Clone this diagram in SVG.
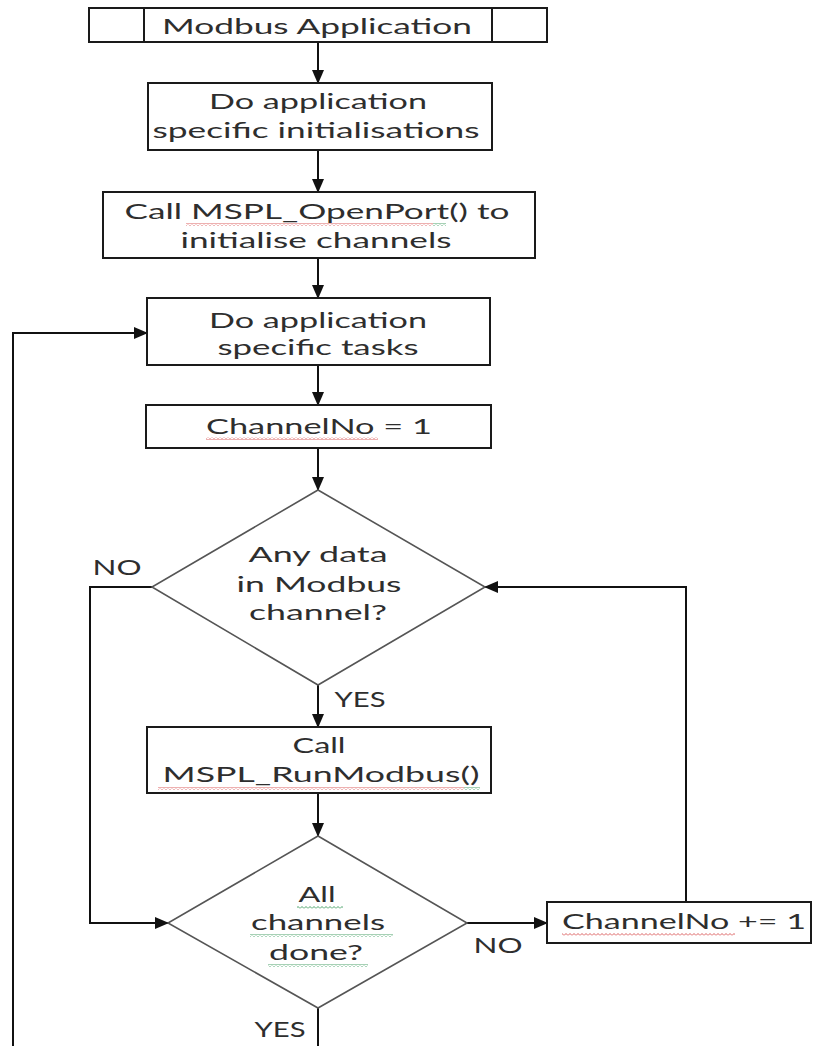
<svg xmlns="http://www.w3.org/2000/svg" width="813" height="1046" viewBox="0 0 813 1046">
<style>
.box{fill:#fff;stroke:#1a1a1a;stroke-width:2}
.dia{fill:#fff;stroke:#555;stroke-width:1.6}
.con{fill:none;stroke:#111;stroke-width:2}
.t{font-family:Lato,"Liberation Sans",sans-serif;font-size:22px;fill:#2e2e2e;text-anchor:middle}
.sqr{fill:url(#wr)}
.sqg{fill:url(#wg)}
</style>
<defs>
<marker id="ah" markerUnits="userSpaceOnUse" markerWidth="14" markerHeight="12" refX="13" refY="6" orient="auto">
<path d="M0,0 L14,6 L0,12 z" fill="#111"/>
</marker>
<pattern id="wr" patternUnits="userSpaceOnUse" width="4" height="3">
<path d="M0,2.5 L2,0.5 L4,2.5" fill="none" stroke="#d85050" stroke-width="0.9"/>
</pattern>
<pattern id="wg" patternUnits="userSpaceOnUse" width="4" height="3">
<path d="M0,2.5 L2,0.5 L4,2.5" fill="none" stroke="#3a9a5a" stroke-width="0.9"/>
</pattern>
</defs>
<rect width="813" height="1046" fill="#fff"/>

<g id="connectors">
<line class="con" x1="318" y1="42" x2="318" y2="83" marker-end="url(#ah)"/>
<line class="con" x1="318" y1="150" x2="318" y2="192" marker-end="url(#ah)"/>
<line class="con" x1="318" y1="258" x2="318" y2="298" marker-end="url(#ah)"/>
<line class="con" x1="318" y1="365" x2="318" y2="405" marker-end="url(#ah)"/>
<line class="con" x1="318" y1="448" x2="318" y2="490" marker-end="url(#ah)"/>
<line class="con" x1="318" y1="685" x2="318" y2="727" marker-end="url(#ah)"/>
<line class="con" x1="318" y1="793" x2="318" y2="836" marker-end="url(#ah)"/>
<line class="con" x1="318" y1="1008" x2="318" y2="1046"/>
<polyline class="con" points="152,587 90,587 90,923 168,923" marker-end="url(#ah)"/>
<line class="con" x1="467" y1="923" x2="547" y2="923" marker-end="url(#ah)"/>
<polyline class="con" points="686,902 686,587 485,587" marker-end="url(#ah)"/>
<polyline class="con" points="13,1046 13,333 147,333" marker-end="url(#ah)"/>
</g>

<g id="title">
<rect class="box" x="89" y="8" width="458" height="34"/>
<line class="box" x1="144" y1="8" x2="144" y2="42"/>
<line class="box" x1="492" y1="8" x2="492" y2="42"/>
<text class="t" x="317" y="34" textLength="310" lengthAdjust="spacingAndGlyphs">Modbus Application</text>
</g>

<g id="init">
<rect class="box" x="148" y="83" width="344" height="67"/>
<text class="t" x="318" y="109" textLength="218" lengthAdjust="spacingAndGlyphs">Do application</text>
<text class="t" x="316" y="138" textLength="327" lengthAdjust="spacingAndGlyphs">specific initialisations</text>
</g>

<g id="openport">
<rect class="box" x="103" y="192" width="432" height="66"/>
<text class="t" x="317" y="219" textLength="385" lengthAdjust="spacingAndGlyphs">Call MSPL_OpenPort() to</text>
<rect class="sqr" x="186" y="223" width="247" height="3"/>
<rect class="sqg" x="433" y="223" width="13" height="3"/>
<text class="t" x="316" y="248" textLength="271" lengthAdjust="spacingAndGlyphs">initialise channels</text>
</g>

<g id="tasks">
<rect class="box" x="147" y="298" width="343" height="67"/>
<text class="t" x="318" y="328" textLength="218" lengthAdjust="spacingAndGlyphs">Do application</text>
<text class="t" x="318" y="355" textLength="201" lengthAdjust="spacingAndGlyphs">specific tasks</text>
</g>

<g id="chan1">
<rect class="box" x="146" y="405" width="345" height="43"/>
<text class="t" x="319" y="434" textLength="226" lengthAdjust="spacingAndGlyphs">ChannelNo = 1</text>
<rect class="sqr" x="206" y="437" width="172" height="3"/>
</g>

<g id="anydata">
<polygon class="dia" points="318,490 485,587 318,685 152,587"/>
<text class="t" x="318" y="562" textLength="139" lengthAdjust="spacingAndGlyphs">Any data</text>
<text class="t" x="319" y="592" textLength="165" lengthAdjust="spacingAndGlyphs">in Modbus</text>
<text class="t" x="318" y="620" textLength="138" lengthAdjust="spacingAndGlyphs">channel?</text>
</g>

<g id="runmodbus">
<rect class="box" x="147" y="727" width="344" height="66"/>
<text class="t" x="319" y="753" textLength="53" lengthAdjust="spacingAndGlyphs">Call</text>
<text class="t" x="321" y="782" textLength="317" lengthAdjust="spacingAndGlyphs">MSPL_RunModbus()</text>
<rect class="sqr" x="158" y="787" width="306" height="3"/>
<rect class="sqg" x="464" y="787" width="16" height="3"/>
</g>

<g id="alldone">
<polygon class="dia" points="318,836 467,923 318,1008 168,923"/>
<text class="t" x="317" y="902" textLength="37" lengthAdjust="spacingAndGlyphs">All</text>
<rect class="sqg" x="297" y="906" width="46" height="3"/>
<text class="t" x="318" y="930" textLength="134" lengthAdjust="spacingAndGlyphs">channels</text>
<rect class="sqg" x="250" y="934" width="143" height="3"/>
<text class="t" x="316" y="960" textLength="94" lengthAdjust="spacingAndGlyphs">done?</text>
<rect class="sqg" x="268" y="964" width="100" height="3"/>
</g>

<g id="chaninc">
<rect class="box" x="547" y="902" width="264" height="41"/>
<text class="t" x="684" y="929" textLength="244" lengthAdjust="spacingAndGlyphs">ChannelNo += 1</text>
<rect class="sqr" x="562" y="933" width="173" height="3"/>
</g>

<g id="labels">
<text class="t" x="117" y="575" textLength="49" lengthAdjust="spacingAndGlyphs">NO</text>
<text class="t" x="360" y="707" textLength="51" lengthAdjust="spacingAndGlyphs">YES</text>
<text class="t" x="498" y="953" textLength="49" lengthAdjust="spacingAndGlyphs">NO</text>
<text class="t" x="280" y="1037" textLength="51" lengthAdjust="spacingAndGlyphs">YES</text>
</g>
</svg>
